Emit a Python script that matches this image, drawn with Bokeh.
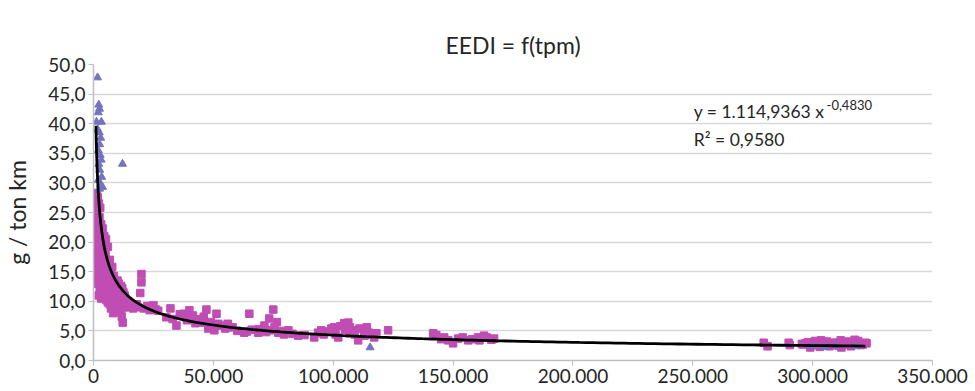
from bokeh.plotting import figure
from bokeh.models import Range1d, FixedTicker, Label
from bokeh.embed import file_html
from bokeh.resources import INLINE
import numpy as np

TITLE = "EEDI = f(tpm)"
Y_LABEL = "g / ton km"
X_TICKS = [0, 50000, 100000, 150000, 200000, 250000, 300000, 350000]
X_TICK_LABELS = ["0", "50.000", "100.000", "150.000", "200.000", "250.000", "300.000", "350.000"]
Y_TICKS = [0, 5, 10, 15, 20, 25, 30, 35, 40, 45, 50]
Y_TICK_LABELS = ["0,0", "5,0", "10,0", "15,0", "20,0", "25,0", "30,0", "35,0", "40,0", "45,0", "50,0"]

# magenta squares (tpm, g/ton km)
sq_x = [600, 900, 1300, 1800, 600, 1100, 2200, 2800, 700, 1500, 2500, 3200, 900, 1800, 2800,
        3800, 4500, 600, 1400, 2300, 3300, 4200, 5200, 6000, 900, 1800, 2700, 3600, 4600, 5500,
        6800, 7800, 1500, 2500, 3500, 4500, 5500, 6500, 7500, 8500, 1800, 2800, 3800, 4800, 6000,
        7000, 8000, 9000, 10000, 11500, 2200, 3200, 5000, 6500, 8000, 9500, 11000, 12500, 6000, 8500,
        10500, 12000, 13500, 9500, 11500, 11800, 12200, 14000, 15500, 17000, 18500, 19500, 20000, 20000,
        21000, 22500, 24200, 26000, 30400, 32100, 34600, 37500, 40000, 40800, 43000, 47100, 45800,
        47900, 51300, 53300, 50400, 56000, 65000, 62900, 68700, 71300, 73300, 75000, 74200, 77100,
        81300, 85400, 93700, 92100, 95000, 99200, 100400, 102100, 104600, 106300, 106700, 108800,
        110400, 112900, 115000, 117100, 122900, 141700, 146300, 150000, 152100, 156300, 160400,
        162900, 167100, 279600, 281200, 290000, 290500, 296000, 298000, 300000, 302000, 304000,
        306000, 308000, 310000, 311700, 313000, 315000, 317000, 319000, 321000, 322500, 299000,
        303000, 307000, 312000, 316000,
        1200, 1600, 2000, 2400, 1000, 1300, 1700, 2100, 1600, 1900, 2300, 2600, 3000, 3400, 3000,
        4000, 4400, 5000, 3600, 4800, 5800, 6300, 7200, 7000, 5800, 4400, 5400, 6800, 7600, 8800,
        9500, 10500, 12000, 13000, 14500, 7300, 8200, 9000, 10000, 11000, 12800, 16500, 18000, 23500,
        25000, 27000,
        33000, 36000, 38500, 39000, 41500, 42500, 44000, 46000, 49000, 52000, 55000, 58000, 60000,
        64000, 66000, 69000, 72000, 75500, 76500, 78000, 79500, 83000, 88000, 96000, 98000, 101000,
        103000, 105000, 107000, 109000, 111000, 113000, 114000, 116000, 118000, 143000, 145000,
        148000, 154000, 158000, 161000, 164000, 166000,
        297000, 301000, 305000, 309000, 314000, 318000, 320000, 322000, 295500, 303500, 311000, 317500]
sq_y = [28.0, 27.2, 28.3, 27.6, 26.0, 25.3, 26.5, 25.8, 24.0, 23.5, 24.2, 23.0, 22.0, 21.5, 21.0,
        22.3, 21.0, 20.0, 19.5, 19.0, 18.5, 19.8, 20.5, 19.2, 17.5, 17.0, 16.5, 16.0, 17.2, 16.3,
        17.0, 15.8, 15.0, 15.0, 14.5, 14.0, 13.5, 14.8, 13.8, 14.3, 13.0, 12.8, 12.2, 12.2, 12.5,
        11.8, 12.5, 13.0, 13.5, 12.6, 11.0, 10.5, 11.0, 10.5, 10.8, 11.2, 10.8, 11.5, 9.8, 9.6,
        9.2, 9.8, 10.2, 8.2, 8.5, 7.4, 6.4, 9.0, 9.6, 9.3, 9.0, 11.4, 13.2, 14.6,
        8.8, 9.2, 9.0, 8.6, 7.3, 8.8, 5.9, 7.9, 8.5, 7.1, 7.0, 8.6, 6.4,
        5.4, 7.9, 5.9, 5.1, 6.2, 7.9, 4.7, 4.7, 5.9, 7.1, 8.6, 5.1, 4.7,
        5.1, 4.2, 4.7, 3.9, 5.1, 5.4, 5.6, 3.9, 6.3, 6.4, 4.6, 5.1,
        3.4, 5.1, 4.7, 3.9, 5.1, 4.6, 3.9, 2.9, 3.7, 3.4, 3.9,
        4.2, 3.7, 3.0, 2.4, 3.0, 2.6, 2.7, 3.1, 2.6, 3.0, 2.8,
        3.2, 2.6, 3.0, 3.4, 2.7, 3.1, 2.8, 3.3, 2.7, 2.9, 2.2,
        2.3, 2.4, 2.2, 2.4,
        26.8, 25.0, 23.0, 22.0, 21.0, 19.0, 18.0, 16.0, 15.5, 14.0, 13.0, 12.0, 11.0, 10.5, 13.5,
        15.5, 17.8, 18.3, 20.2, 15.0, 15.2, 16.0, 15.0, 13.0, 12.0, 11.5, 10.2, 9.5, 10.0, 10.2,
        12.2, 13.0, 12.2, 11.0, 10.0, 8.8, 8.0, 9.2, 8.8, 9.6, 9.0, 8.8, 9.5, 8.5,
        9.3, 8.4,
        7.0, 7.8, 7.3, 6.8, 7.6, 6.3, 6.8, 7.4, 6.5, 6.2, 5.4, 5.6, 5.0,
        4.9, 5.2, 5.3, 4.8, 5.6, 6.5, 5.0, 4.4, 4.5, 4.3, 4.4, 4.9, 4.4,
        5.8, 5.2, 5.6, 4.4, 5.4, 4.2, 5.6, 4.4, 4.6, 4.3, 3.6,
        3.4, 3.9, 3.6, 3.4, 3.9, 3.5,
        2.9, 3.3, 2.6, 3.0, 3.2, 3.0, 2.6, 3.0, 2.8, 3.4, 2.5, 3.5]

# blue triangles
tri_x = [1700, 2200, 2500, 2000, 1250, 3300, 1800, 2400, 3000, 2600, 2000, 2800, 3200, 2200,
         12100, 2600, 3400, 2000, 3000, 3800, 2500, 115400, 300000, 305000, 310000, 318000]
tri_y = [47.8, 43.2, 42.5, 41.9, 40.3, 40.3, 39.0, 38.5, 37.6, 36.5, 35.5, 34.7, 33.9, 33.2,
         33.2, 32.2, 31.0, 30.5, 29.7, 29.3, 29.0, 2.2, 2.4, 2.3, 2.5, 2.4]

# trend line y = a * x^b as printed on the chart
FIT_A = 1114.9363
FIT_B = -0.4830
FIT_X_MIN = 1000
FIT_X_MAX = 322000
EQ_TEXT = "y = 1.114,9363 x"
EQ_EXP = "-0,4830"
R2_TEXT = "R² = 0,9580"

FONT = "Lato"
TXT = "#262626"
GRID = "#D9D9D9"
AXIS = "#BFBFBF"

p = figure(width=975, height=391, output_backend="svg", toolbar_location=None,
           x_range=Range1d(0, 350000), y_range=Range1d(0, 50),
           min_border_left=92, min_border_right=43, min_border_top=64, min_border_bottom=31)
p.outline_line_color = None
p.background_fill_color = "white"

p.title.text = TITLE
p.title.align = "center"
p.title.vertical_align = "middle"
p.title.text_font = FONT
p.title.text_font_size = "23px"
p.title.text_font_style = "normal"
p.title.text_color = TXT
p.title.offset = 0

p.xgrid.grid_line_color = None
p.ygrid.grid_line_color = GRID
p.ygrid.grid_line_width = 1.5

p.xaxis.ticker = FixedTicker(ticks=X_TICKS)
p.xaxis.major_label_overrides = {t: l for t, l in zip(X_TICKS, X_TICK_LABELS)}
p.yaxis.ticker = FixedTicker(ticks=Y_TICKS)
p.yaxis.major_label_overrides = {t: l for t, l in zip(Y_TICKS, Y_TICK_LABELS)}

for ax in (p.xaxis, p.yaxis):
    ax.axis_line_color = AXIS
    ax.axis_line_width = 1.5
    ax.major_tick_line_color = AXIS
    ax.major_tick_out = 5
    ax.major_tick_in = 0
    ax.minor_tick_line_color = None
    ax.major_label_text_font = FONT
    ax.major_label_text_font_size = "19px"
    ax.major_label_text_color = TXT
    ax.major_label_standoff = 3

p.yaxis.axis_label = Y_LABEL
p.yaxis.axis_label_text_font = FONT
p.yaxis.axis_label_text_font_size = "23px"
p.yaxis.axis_label_text_font_style = "normal"
p.yaxis.axis_label_text_color = TXT
p.yaxis.axis_label_standoff = 14

p.scatter(sq_x, sq_y, marker="square", size=7.5, fill_color="#C04DB4", line_color="#C04DB4")
p.scatter(tri_x, tri_y, marker="triangle", size=8, fill_color="#7373BE", line_color="#7373BE")

fx = np.geomspace(FIT_X_MIN, FIT_X_MAX, 400)
fy = FIT_A * fx ** FIT_B
p.line(fx, fy, line_color="black", line_width=2.8)

p.add_layout(Label(x=250400, y=42.0, text=EQ_TEXT, text_font=FONT, text_font_size="17.5px",
                   text_color=TXT, text_baseline="middle"))
p.add_layout(Label(x=305800, y=43.1, text=EQ_EXP, text_font=FONT, text_font_size="13px",
                   text_color=TXT, text_baseline="middle"))
p.add_layout(Label(x=250400, y=37.3, text=R2_TEXT, text_font=FONT, text_font_size="17.5px",
                   text_color=TXT, text_baseline="middle"))

open("out.html", "w").write(file_html(p, INLINE))
